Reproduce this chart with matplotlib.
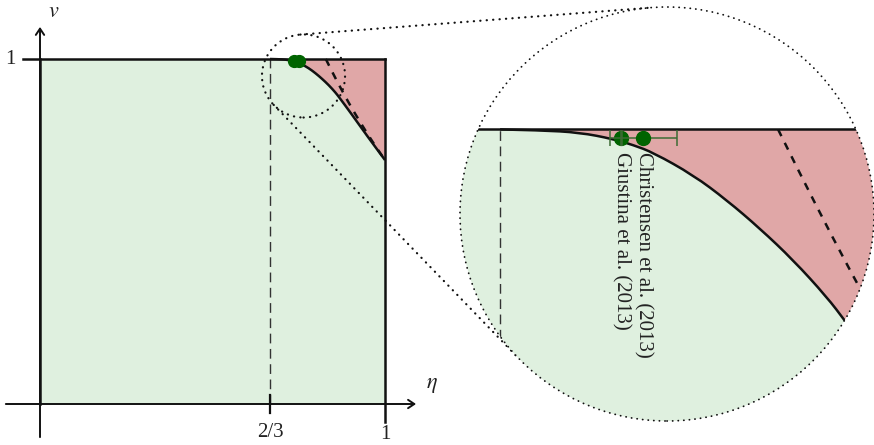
import numpy as np
import matplotlib.pyplot as plt
from matplotlib.patches import Circle, PathPatch
from matplotlib.path import Path

plt.rcParams['font.family'] = ['Liberation Serif', 'DejaVu Serif']
plt.rcParams['mathtext.fontset'] = 'stix'

# solid threshold curve, v = 1 below eta = 2/3
eta_bound = [0.6667, 0.690, 0.713, 0.7325, 0.7442, 0.7558, 0.7791, 0.7985, 0.8178,
             0.8372, 0.8566, 0.8678, 0.900, 0.950, 1.000]
v_bound = [1.000, 0.9995, 0.9982, 0.9944, 0.9909, 0.9865, 0.9734, 0.9589, 0.9424,
           0.9240, 0.9027, 0.8881, 0.8446, 0.7746, 0.7071]

# dashed curve
eta_chsh = [0.8284, 0.84, 0.86, 0.88, 0.90, 0.92, 0.95, 0.975, 1.0]
v_chsh = [1.0, 0.9765, 0.9373, 0.9000, 0.8642, 0.8301, 0.7815, 0.7434, 0.7071]

# experiments
exp_names = ['Giustina et al. (2013)', 'Christensen et al. (2013)']
exp_eta = [0.7373, 0.7500]
exp_v = [0.9951, 0.9951]
exp_err = [0.0004, 0.0195]

tick_pos = [2 / 3, 1]
tick_labels = ['2/3', '1']

GREEN = '#dff0df'
RED = '#e0a7a7'
DOT = '#006400'
ERR = '#3d6b35'
INK = '#111111'

W, H = 874, 445
PX = 345.0          # pixels per unit in the left panel
X0, Y0 = 40, 404    # pixel position of the origin

zoom_c = (0.7638, 0.9508)
zoom_r = 0.1204
big_px = (667, 214, 207)  # magnified circle: centre x, centre y, radius (pixels)

DOTS = (0, (0.1, 2.8))


def smooth(xs, ys):
    # quadratic bezier through the midpoints, the read points act as controls
    pts = np.column_stack([xs, ys])
    verts = [pts[0]]
    codes = [Path.MOVETO]
    for i in range(1, len(pts) - 1):
        verts += [pts[i], (pts[i] + pts[i + 1]) / 2]
        codes += [Path.CURVE3, Path.CURVE3]
    verts.append(pts[-1])
    codes.append(Path.LINETO)
    return verts, codes


def draw_region(a):
    arts = []
    cv, cc = smooth(eta_bound, v_bound)
    green = Path([(0, 0), (0, 1)] + cv + [(1, 0), (0, 0)],
                 [Path.MOVETO, Path.LINETO] + [Path.LINETO] + cc[1:] + [Path.LINETO, Path.CLOSEPOLY])
    red = Path(cv + [(1, 1), cv[0]], cc + [Path.LINETO, Path.CLOSEPOLY])
    arts.append(a.add_patch(PathPatch(green, facecolor=GREEN, lw=0, zorder=1)))
    arts.append(a.add_patch(PathPatch(red, facecolor=RED, lw=0, zorder=1)))
    arts += a.plot([2 / 3, 2 / 3], [0, 1], color='#333333', lw=1.0, ls=(0, (7, 4)), zorder=2)
    arts.append(a.add_patch(PathPatch(Path(cv, cc), fill=False, edgecolor=INK, lw=1.8, zorder=3)))
    dv, dc = smooth(eta_chsh, v_chsh)
    arts.append(a.add_patch(PathPatch(Path(dv, dc), fill=False, edgecolor=INK, lw=1.8,
                                      ls=(0, (3, 3)), zorder=3)))
    return arts


fig = plt.figure(figsize=(W / 100, H / 100), dpi=100)
ax = fig.add_axes([0, 0, 1, 1])
ax.set_xlim(-X0 / PX, (W - X0) / PX)
ax.set_ylim((Y0 - H) / PX, Y0 / PX)
ax.axis('off')

draw_region(ax)
# box, ticks
ax.plot([0, 0], [0, 1], color=INK, lw=1.8, zorder=4)
ax.plot([-0.049, 1], [1, 1], color=INK, lw=1.8, zorder=4)
ax.plot([1, 1], [-0.052, 1], color=INK, lw=1.8, zorder=4)
ax.plot([2 / 3, 2 / 3], [-0.026, 0.026], color=INK, lw=1.6, zorder=4)

arrow = dict(arrowstyle='->,head_length=0.45,head_width=0.3', lw=1.4, color=INK, shrinkA=0, shrinkB=0)
ax.annotate('', xy=(1.09, 0), xytext=(-0.099, 0), arrowprops=arrow, zorder=5)
ax.annotate('', xy=(0, 1.093), xytext=(0, -0.096), arrowprops=arrow, zorder=5)

ax.text(-0.087, 1.0, '1', ha='center', va='center', fontsize=15, color='#222222')
for pos, lab, yy in zip(tick_pos, tick_labels, [-0.084, -0.089]):
    ax.text(pos, yy, lab, ha='center', va='center', fontsize=15, color='#222222')
ax.text(0.041, 1.136, '$v$', ha='center', va='center', fontsize=16, color='#222222')
ax.text(1.136, 0.055, r'$\eta$', ha='center', va='center', fontsize=16, color='#222222')

ax.plot(exp_eta, exp_v, 'o', color=DOT, ms=8.5, zorder=6)

# spy circle and connecting tangents
ax.add_patch(Circle(zoom_c, zoom_r, fill=False, zorder=8, ls=DOTS, lw=1.6,
                    capstyle='round', edgecolor=INK))
big_c = np.array([(big_px[0] - X0) / PX, (Y0 - big_px[1]) / PX])
big_r = big_px[2] / PX
c1 = np.array(zoom_c)
d = big_c - c1
L = np.hypot(*d)
u = d / L
perp = np.array([-u[1], u[0]])
ca = (zoom_r - big_r) / L
sa = np.sqrt(1 - ca ** 2)
for s in (1, -1):
    n = ca * u + s * sa * perp
    p1 = c1 + zoom_r * n
    p2 = big_c + big_r * n
    ax.plot([p1[0], p2[0]], [p1[1], p2[1]], ls=DOTS, lw=1.6, dash_capstyle='round',
            color=INK, zorder=8)

# magnified view
cx, cy, r = big_px
ax2 = fig.add_axes([(cx - r) / W, (H - cy - r) / H, 2 * r / W, 2 * r / H])
ax2.set_xlim(zoom_c[0] - zoom_r, zoom_c[0] + zoom_r)
ax2.set_ylim(zoom_c[1] - zoom_r, zoom_c[1] + zoom_r)
ax2.axis('off')
ax2.patch.set_alpha(0)

clip = Circle(zoom_c, zoom_r, transform=ax2.transData)
arts = draw_region(ax2)
arts += ax2.plot([0, 1], [1, 1], color=INK, lw=1.8, zorder=4)

# Giustina marker, Christensen bar, Christensen marker, Giustina bar
arts += ax2.plot(exp_eta[0], exp_v[0], 'o', color=DOT, ms=10, zorder=5)
eb = ax2.errorbar(exp_eta[1], exp_v[1], xerr=exp_err[1], fmt='none', ecolor=ERR,
                  elinewidth=1.1, capsize=5.5, capthick=1.1, zorder=6)
arts += list(eb.lines[1]) + list(eb.lines[2])
arts += ax2.plot(exp_eta[1], exp_v[1], 'o', color=DOT, ms=10, zorder=7)
eb = ax2.errorbar(exp_eta[0], exp_v[0], xerr=exp_err[0], fmt='none', ecolor=ERR,
                  elinewidth=1.1, capsize=5.5, capthick=1.1, zorder=8)
arts += list(eb.lines[1]) + list(eb.lines[2])

for name, e in zip(exp_names, exp_eta):
    arts.append(ax2.text(e, 0.9868, name, rotation=-90, ha='center', va='top',
                         fontsize=15, color='#222222', zorder=9))

for a in arts:
    a.set_clip_path(clip)

ax2.add_patch(Circle(zoom_c, zoom_r, fill=False, clip_on=False, zorder=10,
                     ls=(0, (0.1, 3.0)), lw=1.3, capstyle='round', edgecolor=INK))

fig.savefig('out.png', dpi=100)
